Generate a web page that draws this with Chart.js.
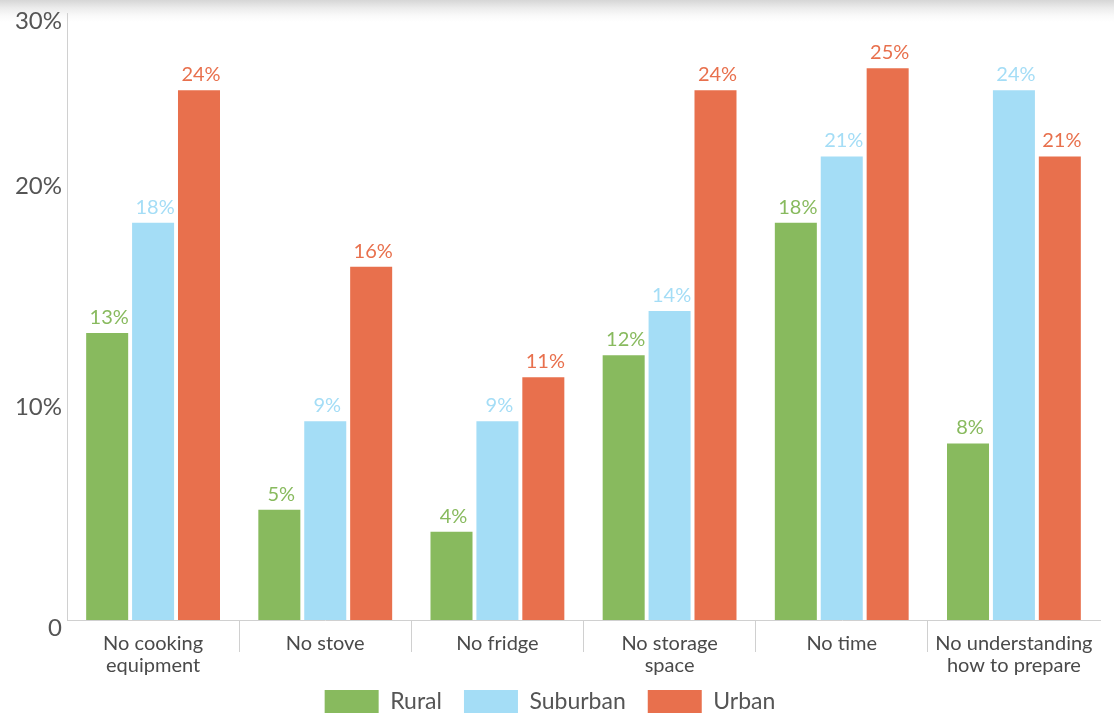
<!DOCTYPE html>
<html><head><meta charset="utf-8">
<script src="https://cdn.jsdelivr.net/npm/chart.js@4.4.1/dist/chart.umd.min.js"></script>
<style>
html,body{margin:0;padding:0;}
body{width:1114px;height:715px;overflow:hidden;background:linear-gradient(to bottom,#d6d6d6 0px,#ececec 8px,#fafafa 16px,#ffffff 22px);}
#wrap{position:relative;width:1114px;height:715px;}
</style></head><body>
<div id="wrap"><canvas id="c" width="1114" height="715"></canvas></div>
<script>
// ---- data ----
const categories = [["No cooking","equipment"],"No stove","No fridge",["No storage","space"],"No time",["No understanding","how to prepare"]];
const seriesNames = ["Rural","Suburban","Urban"];
const rural    = [13, 5, 4, 12, 18, 8];
const suburban = [18, 9, 9, 14, 21, 24];
const urban    = [24, 16, 11, 24, 25, 21];
const axisMax = 27.5;
const tickValues = [0, 10, 20, axisMax];
const tickLabels = ["0", "10%", "20%", "30%"];

const colors = ["#88BA5E", "#A4DDF6", "#E8704D"];
const FONT = "Lato, 'Open Sans', sans-serif";

const barLabels = {
  id: 'barLabels',
  beforeDraw(chart) {
    const x = chart.scales.x;
    if (x) x._computeLabelArea = () => null; // don't clip the two-line category labels
  },
  afterDatasetsDraw(chart) {
    const ctx = chart.ctx;
    ctx.save();
    ctx.font = "20px " + FONT;
    ctx.textAlign = 'center';
    ctx.textBaseline = 'alphabetic';
    chart.data.datasets.forEach((ds, i) => {
      const meta = chart.getDatasetMeta(i);
      if (meta.hidden) return;
      ctx.fillStyle = ds.backgroundColor;
      meta.data.forEach((el, j) => {
        ctx.fillText(ds.data[j] + '%', el.x + 2, el.y - 9);
      });
    });
    ctx.restore();
  }
};

function build() {
  new Chart(document.getElementById('c'), {
    type: 'bar',
    data: {
      labels: categories,
      datasets: [
        { label: seriesNames[0], data: rural, backgroundColor: colors[0] },
        { label: seriesNames[1], data: suburban, backgroundColor: colors[1] },
        { label: seriesNames[2], data: urban, backgroundColor: colors[2] }
      ]
    },
    options: {
      responsive: false,
      animation: false,
      layout: { padding: { left: 0, right: 14, top: 0, bottom: -8 } },
      datasets: { bar: { categoryPercentage: 0.8, barPercentage: 0.915, borderWidth: 0 } },
      plugins: {
        legend: {
          position: 'bottom',
          labels: {
            boxWidth: 54, boxHeight: 23, padding: 22,
            color: '#555', font: { family: FONT, size: 23 }
          }
        },
        tooltip: { enabled: false }
      },
      scales: {
        x: {
          grid: {
            offset: true, drawOnChartArea: false, drawTicks: true, tickLength: 32,
            color: (c) => (c.type === 'tick' && c.index > 0) ? '#d0d0d0' : 'rgba(0,0,0,0)'
          },
          border: { display: true, color: '#d0d0d0' },
          ticks: {
            color: '#4a4a4a', padding: -20, maxRotation: 0, autoSkip: false,
            font: { family: FONT, size: 20, lineHeight: 1.12 }
          },
          afterFit: (s) => { s.height = 48; }
        },
        y: {
          min: 0, max: axisMax,
          grid: { display: false, drawTicks: false },
          border: { display: true, color: '#d0d0d0' },
          afterBuildTicks: (s) => { s.ticks = tickValues.map(v => ({ value: v })); },
          ticks: {
            color: '#555', padding: 5, labelOffset: 8,
            font: { family: FONT, size: 24 },
            callback: (v) => tickLabels[tickValues.indexOf(v)]
          },
          afterFit: (s) => { s.width = 67; s.paddingTop = 13; }
        }
      }
    },
    plugins: [barLabels]
  });
}
if (document.fonts && document.fonts.load) {
  Promise.all([document.fonts.load("20px Lato"), document.fonts.load("24px Lato")]).then(build, build);
} else build();
</script>
</body></html>
